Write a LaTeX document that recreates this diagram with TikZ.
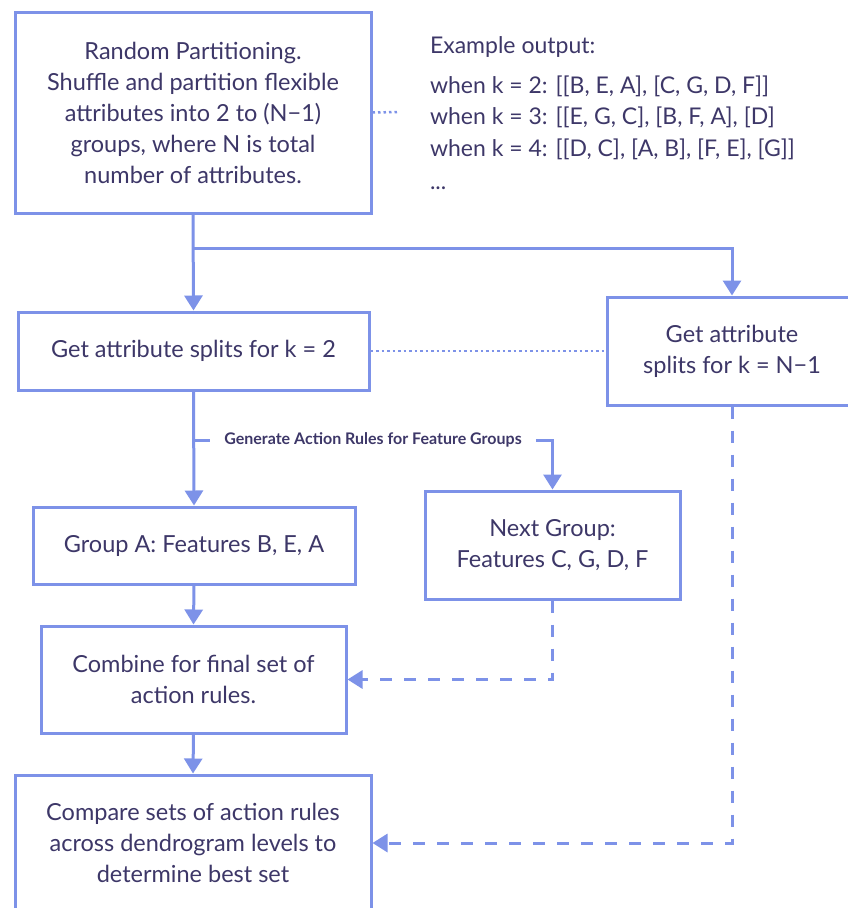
\documentclass[tikz,border=0pt]{standalone}
\usepackage{fontspec}
\setmainfont{Lato}
\usepackage{tikz}
\usepackage{xcolor}
\usetikzlibrary{arrows.meta,positioning,calc}
\definecolor{Line}{HTML}{7D92E8}
\definecolor{Ink}{HTML}{3D3768}
\begin{document}
\begin{tikzpicture}[
  x=1pt,y=-1pt,
  box/.style={draw=Line,line width=3pt,fill=white,align=center,text=Ink,font=\fontsize{23.5}{31}\selectfont},
  arrow/.style={-{Triangle[width=18pt,length=15pt]},line width=3pt,draw=Line},
  dasharrow/.style={arrow,dash pattern=on 12pt off 12pt},
  dotline/.style={line width=2.5pt,draw=Line,dash pattern=on 2.5pt off 3pt},
  plain/.style={line width=3pt,draw=Line}
]
\useasboundingbox (0,0) rectangle (847,908);
\node[box,minimum width=356pt,minimum height=201pt] (part) at (193,112.5) {Random Partitioning.\\Shuffle and partition flexible\\attributes into 2 to (N−1)\\groups, where N is total\\number of attributes.};
\node[anchor=north west,align=left,text=Ink,font=\fontsize{23}{31.5}\selectfont] (example) at (426.5,33.5) {Example output:\\[8pt]when k = 2: [[B, E, A], [C, G, D, F]]\\when k = 3: [[E, G, C], [B, F, A], [D]\\when k = 4: [[D, C], [A, B], [F, E], [G]]\\[1.5pt]...};
\coordinate (dotend) at (398,112);
\draw[dotline] (part.east) -- (dotend);
\node[box,minimum width=351pt,minimum height=78pt] (split2) at (193.5,351) {Get attribute splits for k = 2};
\node[box,minimum width=250pt,minimum height=108pt] (splitn) at (732,351) {Get attribute\\splits for k = N−1};
\coordinate (branch) at (193,248);
\draw[arrow] (part.south) -- (split2.north);
\draw[arrow] (branch) -| (splitn.north);
\draw[dotline] (split2.east) -- (splitn.west);
\node[box,minimum width=322pt,minimum height=77pt] (groupa) at (194,545.5) {Group A: Features B, E, A};
\node[box,minimum width=255pt,minimum height=108pt] (nextgrp) at (552.5,545) {Next Group:\\Features C, G, D, F};
\coordinate (gen) at (193,440);
\node[text=Ink,font=\fontsize{16}{18}\bfseries\selectfont,inner xsep=14pt] (genlabel) at (373,440) {Generate Action Rules for Feature Groups};
\draw[arrow] (split2.south) -- (groupa.north);
\draw[plain] (gen) -- (genlabel.west);
\draw[arrow] (genlabel.east) -| (nextgrp.north);
\node[box,minimum width=305pt,minimum height=107pt] (combine) at (193.5,679.5) {Combine for final set of\\action rules.};
\draw[arrow] (groupa.south) -- (combine.north);
\draw[dasharrow] (nextgrp.south) |- (combine.east);
\node[box,minimum width=356pt,minimum height=136pt] (compare) at (193,843) {Compare sets of action rules\\across dendrogram levels to\\determine best set};
\draw[arrow] (combine.south) -- (compare.north);
\draw[dasharrow] (splitn.south) |- (compare.east);
\end{tikzpicture}
\end{document}
